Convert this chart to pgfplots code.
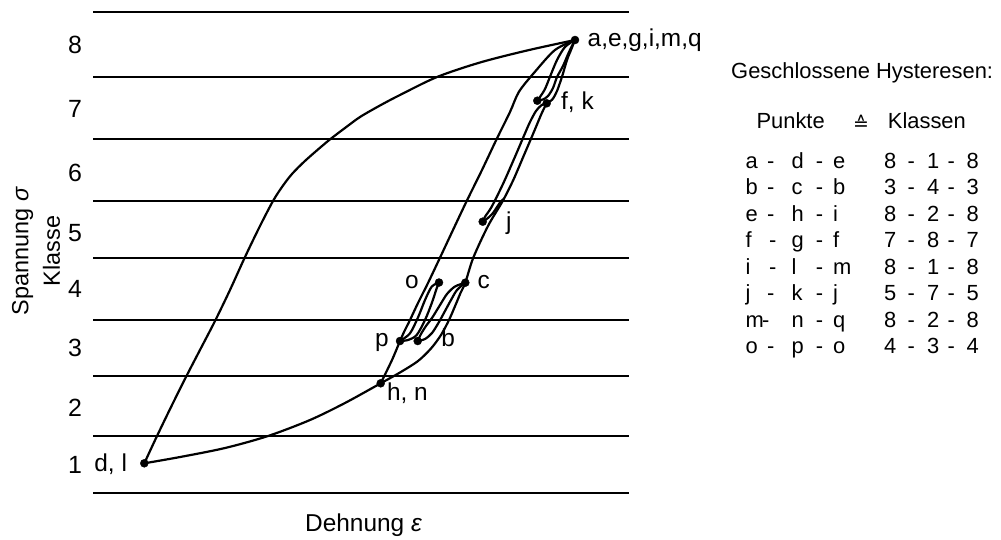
\documentclass[border=0pt]{standalone}
\usepackage{pgfplots}
\pgfplotsset{compat=1.18}
\usepackage{fontspec}
\setmainfont{Liberation Sans}
\newfontfamily\symbolfont{DejaVu Sans}

\tikzset{
  lbl/.style={font=\fontsize{24.5}{28}\selectfont, inner sep=0pt, anchor=base west},
  num/.style={font=\fontsize{25}{28}\selectfont, inner sep=0pt, anchor=base},
  tbl/.style={font=\fontsize{22}{26}\selectfont, inner sep=0pt, anchor=base west},
}
\pgfplotsset{
  curve/.style={black, line width=2.2bp, smooth, mark=none},
  level/.style={black, line width=2.3bp, mark=none},
  turn/.style={black, only marks, mark=*, mark size=4bp},
}

% one row of the table of closed hysteresis loops:
% #1 baseline, #2..#5 points (with x of the first dash), #6..#8 classes
\newcommand\trow[8]{%
  \node[tbl] at (axis cs:745.5,#1) {#2};
  \node[tbl] at (axis cs:#3,#1) {-};
  \node[tbl] at (axis cs:791.5,#1) {#4};
  \node[tbl] at (axis cs:815.7,#1) {-};
  \node[tbl] at (axis cs:833,#1) {#5};
  \node[tbl] at (axis cs:884,#1) {#6};
  \node[tbl] at (axis cs:907.3,#1) {-};
  \node[tbl] at (axis cs:927,#1) {#7};
  \node[tbl] at (axis cs:947.3,#1) {-};
  \node[tbl] at (axis cs:966.3,#1) {#8};
}

\begin{document}
\begin{tikzpicture}
\begin{axis}[
  width=1001bp, height=539bp, scale only axis,
  xmin=0, xmax=1001, ymin=-0.256, ymax=8.772,
  hide axis, clip=false,
]
% class boundaries
\pgfplotsinvokeforeach{0.514,1.469,2.474,3.412,4.451,5.405,6.444,7.482,8.571}{
  \addplot[level] coordinates {(93,#1) (629,#1)};
}

% d -> a (upper left branch)
\addplot[curve] coordinates {
  (144.3,1.012) (157,1.469) (172,1.988) (187,2.491) (201,2.943) (215,3.395)
  (230,3.915) (245,4.467) (260,4.987) (273,5.405) (282,5.640) (292,5.858)
  (306,6.092) (328,6.410) (345,6.628) (360,6.812) (380,7.005) (400,7.181)
  (437,7.482) (480,7.725) (527,7.926) (575,8.102)};
% d -> h -> c -> k (lower and right branch)
\addplot[curve] coordinates {
  (144.3,1.012) (180,1.117) (225,1.268) (268,1.469) (310,1.737) (345,2.022)
  (380.7,2.352) (400,2.533) (418,2.725) (431,2.935) (441,3.161) (449,3.412)
  (455.5,3.663) (460.5,3.864) (465.3,4.037) (473.3,4.456) (488,4.987)
  (502.7,5.405) (513.3,5.757) (523.3,6.147) (533.3,6.539) (541.7,6.874)
  (546.7,7.042)};
% k -> a
\addplot[curve] coordinates {
  (546.7,7.042) (552.3,7.106) (557,7.248) (562,7.487) (567,7.767)
  (571,7.935) (575,8.102)};
% a -> h (left branch)
\addplot[curve] coordinates {
  (575,8.102) (555,7.935) (535,7.571) (519,7.236) (510,6.896) (496.7,6.444)
  (482,5.925) (466.7,5.405) (453,4.920) (440,4.456) (428,4.032) (418,3.697)
  (410,3.412) (404,3.211) (400,3.060) (392,2.742) (380.7,2.352)};
% loop a - f
\addplot[curve] coordinates {
  (575,8.102) (565,7.985) (557,7.767) (550,7.487) (544.5,7.265) (537.3,7.085)};
\addplot[curve] coordinates {
  (575,8.102) (569,7.901) (563,7.667) (557,7.482) (553,7.298) (548,7.164)
  (543,7.106) (537.3,7.085)};
% loop j - k
\addplot[curve] coordinates {
  (546.7,7.042) (541.7,7.013) (536,6.913) (530,6.729) (525,6.539) (515,6.147)
  (503.3,5.702) (491.7,5.310) (485,5.142) (482.7,5.059)};
\addplot[curve] coordinates {
  (482.7,5.059) (488,5.121) (493,5.204) (497,5.305) (500.5,5.390) (503.7,5.439)};
% loop b - c
\addplot[curve] coordinates {
  (417.7,3.060) (421,3.178) (426,3.312) (432,3.446) (440,3.663) (447,3.848)
  (455,3.973) (465.3,4.037)};
\addplot[curve] coordinates {
  (417.7,3.060) (425,3.094) (432,3.194) (439,3.379) (445,3.563) (451,3.747)
  (457,3.915) (465.3,4.037)};
% loop o - p
\addplot[curve] coordinates {
  (439,4.040) (431.7,3.970) (425,3.747) (418.3,3.467) (410,3.189) (400,3.060)};
\addplot[curve] coordinates {
  (439,4.040) (436.7,3.943) (431.7,3.692) (425,3.412) (416.7,3.161) (408,3.077)
  (400,3.060)};

% turning points a, f, k, j, o, c, p, b, h, d
\addplot[turn] coordinates {
  (575,8.102) (537.3,7.085) (546.7,7.042) (482.7,5.059) (439,4.040)
  (465.3,4.037) (400,3.060) (417.7,3.060) (380.7,2.352) (144.3,1.012)};

% point labels
\node[lbl] at (axis cs:587.5,7.985) {a,e,g,i,m,q};
\node[lbl] at (axis cs:561,6.930) {f, k};
\node[lbl] at (axis cs:506,4.931) {j};
\node[lbl] at (axis cs:405,3.948) {o};
\node[lbl] at (axis cs:477.5,3.948) {c};
\node[lbl] at (axis cs:375,2.965) {p};
\node[lbl] at (axis cs:441.2,2.965) {b};
\node[lbl] at (axis cs:386.8,2.072) {h, n};
\node[lbl] at (axis cs:94.2,0.883) {d, l};

% class numbers
\node[num] at (axis cs:75,7.868) {8};
\node[num] at (axis cs:75,6.796) {7};
\node[num] at (axis cs:75,5.740) {6};
\node[num] at (axis cs:75,4.735) {5};
\node[num] at (axis cs:75,3.797) {4};
\node[num] at (axis cs:75,2.809) {3};
\node[num] at (axis cs:75,1.804) {2};
\node[num] at (axis cs:75,0.833) {1};

% axis titles
\node[rotate=90, align=center, inner sep=0pt,
      font=\fontsize{23.5}{31.5}\selectfont] at (axis cs:36,4.568)
      {Spannung \textit{σ}\\Klasse};
\node[lbl] at (axis cs:305,-0.134) {Dehnung \textit{ε}};

% table of closed loops
\node[tbl] at (axis cs:731,7.460) {Geschlossene Hysteresen:};
\node[tbl] at (axis cs:756.3,6.623) {Punkte};
\node[inner sep=0pt, anchor=base, font=\symbolfont\fontsize{19}{19}\selectfont]
      at (axis cs:861,6.590) {≙};
\node[tbl] at (axis cs:887.7,6.623) {Klassen};
\trow{5.953}{a}{767}{d}{e}{8}{1}{8}
\trow{5.509}{b}{767}{c}{b}{3}{4}{3}
\trow{5.065}{e}{767}{h}{i}{8}{2}{8}
\trow{4.621}{f}{769}{g}{f}{7}{8}{7}
\trow{4.178}{i}{769}{l}{m}{8}{1}{8}
\trow{3.734}{j}{767}{k}{j}{5}{7}{5}
\trow{3.290}{m}{762}{n}{q}{8}{2}{8}
\trow{2.846}{o}{767}{p}{o}{4}{3}{4}
\end{axis}
\pgfresetboundingbox
\path[use as bounding box] (current axis.south west) rectangle (current axis.north east);
\end{tikzpicture}
\end{document}
